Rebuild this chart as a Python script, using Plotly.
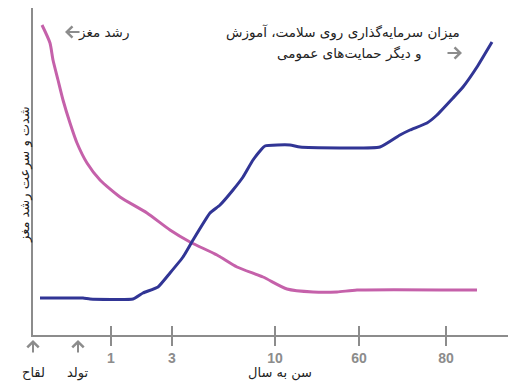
import plotly.graph_objects as go

# Position along the (non-linear) age axis, 0 = conception
brain_x = [9, 17, 20, 25, 30, 37, 44, 54, 67, 87, 114, 137, 157, 184, 204, 230, 254, 280, 304, 324, 444]
brain_y = [310, 292, 275, 255, 235, 212, 192, 172, 155, 138, 122, 105, 93, 80, 68, 58, 46, 43, 43, 45, 45]

invest_x = [7, 50, 57, 100, 110, 125, 137, 150, 160, 177, 187, 200, 210, 220, 232, 257, 267, 347, 367, 377, 394, 404, 420, 430, 444, 459]
invest_y = [37, 37, 36, 36, 42, 48, 62, 78, 95, 122, 130, 145, 158, 175, 189, 190, 188, 188, 200, 205, 212, 220, 237, 248, 268, 293]

tick_pos = [78, 139, 242, 326, 413]
tick_labels = ["1", "3", "10", "60", "80"]
marker_pos = [0, 45]
marker_labels = ["لقاح", "تولد"]

x_title = "سن به سال"
y_title = "شدت و سرعت رشد مغز"
brain_label = "رشد مغز"
invest_label_1 = "میزان سرمایه\u200cگذاری روی سلامت، آموزش"
invest_label_2 = "و دیگر حمایت\u200cهای عمومی"

PINK = "#C561AA"
BLUE = "#313595"
GREY = "#8C8C8C"
FONT = "DejaVu Sans, sans-serif"
XMAX, YMAX = 475, 327

fig = go.Figure()
fig.add_trace(go.Scatter(x=brain_x, y=brain_y, mode="lines",
                         line=dict(color=PINK, width=3, shape="spline", smoothing=0.6),
                         hoverinfo="skip", showlegend=False))
fig.add_trace(go.Scatter(x=invest_x, y=invest_y, mode="lines",
                         line=dict(color=BLUE, width=3, shape="spline", smoothing=0.4),
                         hoverinfo="skip", showlegend=False))

# upper halves of the crossing tick marks
for p in tick_pos:
    fig.add_shape(type="line", x0=p, x1=p, y0=0, y1=9, xref="x", yref="y",
                  line=dict(color=GREY, width=2))

arrow_style = dict(showarrow=True, text="", arrowhead=4, arrowwidth=2, arrowsize=1.1,
                   arrowcolor=GREY, axref="pixel", ayref="pixel")

ann = []
ann.append(dict(x=98, y=303, text=brain_label, xanchor="right", showarrow=False,
                font=dict(size=13.5, color="#222", family=FONT)))
ann.append(dict(x=32, y=303, ax=16, ay=0, **arrow_style))
ann.append(dict(x=429, y=303, text=invest_label_1, xanchor="right", showarrow=False,
                font=dict(size=13.5, color="#222", family=FONT)))
ann.append(dict(x=390, y=282, text=invest_label_2, xanchor="right", showarrow=False,
                font=dict(size=13.5, color="#222", family=FONT)))
ann.append(dict(x=429, y=282, ax=-16, ay=0, **arrow_style))
for p, lab in zip(marker_pos, marker_labels):
    ann.append(dict(x=p, y=-5 / YMAX, yref="paper", ax=0, ay=14, **arrow_style))
    ann.append(dict(x=p, y=-38 / YMAX, yref="paper", text=lab, showarrow=False, yanchor="middle",
                    font=dict(size=13, color="#222", family=FONT)))
ann.append(dict(x=247, y=-38 / YMAX, yref="paper", text=x_title, showarrow=False, yanchor="middle",
                font=dict(size=13, color="#222", family=FONT)))
ann.append(dict(x=-18 / XMAX, xref="paper", y=160 / YMAX, yref="paper", text=y_title,
                showarrow=False, textangle=-90,
                font=dict(size=13, color="#222", family=FONT)))

fig.update_layout(
    width=527, height=388,
    margin=dict(l=33, r=19, t=8, b=53),
    paper_bgcolor="white", plot_bgcolor="white",
    annotations=ann,
    xaxis=dict(range=[0, XMAX], showgrid=False, zeroline=False,
               showline=True, linecolor=GREY, linewidth=2,
               tickvals=tick_pos, ticktext=tick_labels,
               ticks="outside", ticklen=9, tickwidth=2, tickcolor=GREY,
               tickfont=dict(size=14, color=GREY, family="Liberation Sans, Arial, sans-serif",
                             weight="bold")),
    yaxis=dict(range=[0, YMAX], showgrid=False, zeroline=False,
               showline=True, linecolor=GREY, linewidth=2,
               showticklabels=False, ticks=""),
)

fig.write_html("out.html", config={"displayModeBar": False},
               post_script="document.body.style.margin='0';")
